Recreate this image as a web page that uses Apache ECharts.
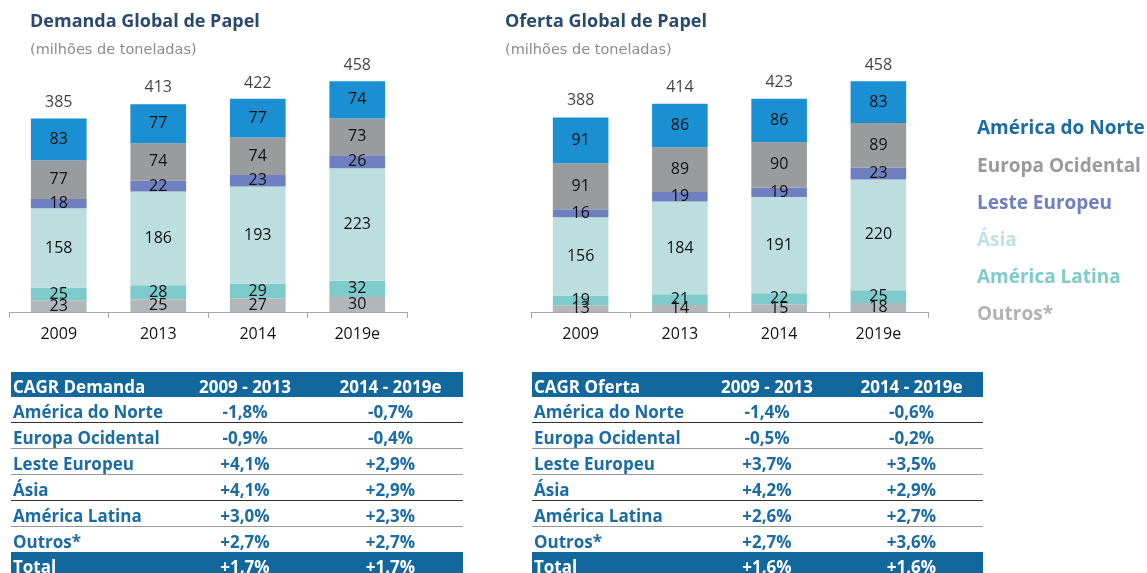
<!DOCTYPE html>
<html>
<head>
<meta charset="utf-8">
<script src="https://cdn.jsdelivr.net/npm/echarts@6/dist/echarts.min.js"></script>
<style>
  html, body { margin: 0; padding: 0; background: #fff; }
  #wrap { position: relative; width: 1147px; height: 573px; overflow: hidden; font-family: "Open Sans", sans-serif; }
  #main { position: absolute; left: 0; top: 0; width: 1147px; height: 573px; }
  table.cagr { position: absolute; border-collapse: collapse; table-layout: fixed; font-weight: bold; font-size: 17px; color: #1b6ca3; }
  table.cagr td, table.cagr th { padding: 0 2px; height: 25px; line-height: 20px; vertical-align: bottom; white-space: nowrap; }
  table.cagr th { background: #12679d; color: #fff; font-weight: bold; }
  table.cagr td.n, table.cagr th.n { text-align: center; }
  table.cagr th.l, table.cagr td.l { text-align: left; }
  table.cagr tr.r td { border-bottom: 1.5px solid #999; }
  table.cagr tr.r.dk td { border-bottom: 1.5px solid #333; }
  table.cagr tr.tot td { background: #12679d; color: #fff; }
</style>
</head>
<body>
<div id="wrap">
  <div id="main"></div>
  <table class="cagr" id="t1" style="left:11px; top:372px; width:452px;">
    <colgroup><col style="width:161px"><col style="width:146px"><col style="width:145px"></colgroup>
  </table>
  <table class="cagr" id="t2" style="left:532px; top:372px; width:451px;">
    <colgroup><col style="width:162px"><col style="width:146px"><col style="width:143px"></colgroup>
  </table>
</div>
<script>
// categorias e séries
var anos = ['2009', '2013', '2014', '2019e'];
var regioes = ['América do Norte', 'Europa Ocidental', 'Leste Europeu', 'Ásia', 'América Latina', 'Outros*'];
var cores = ['#1a8fd1', '#999b9d', '#6f80c0', '#bddede', '#7fcbcb', '#b4b6b9'];
var coresLegenda = ['#1b6ca3', '#9a9a9a', '#6f7fc0', '#c2e1e1', '#7fcbcb', '#b2b2b2'];

// demanda (milhões de toneladas)
var demNorte = [83, 77, 77, 74];
var demEuropaOc = [77, 74, 74, 73];
var demLeste = [18, 22, 23, 26];
var demAsia = [158, 186, 193, 223];
var demLatina = [25, 28, 29, 32];
var demOutros = [23, 25, 27, 30];
var demTotal = [385, 413, 422, 458];

// oferta
var ofeNorte = [91, 86, 86, 83];
var ofeEuropaOc = [91, 89, 90, 89];
var ofeLeste = [16, 19, 19, 23];
var ofeAsia = [156, 184, 191, 220];
var ofeLatina = [19, 21, 22, 25];
var ofeOutros = [13, 14, 15, 18];
var ofeTotal = [388, 414, 423, 458];

// tabelas CAGR
var cagrCols = ['2009 - 2013', '2014 - 2019e'];
var cagrLinhas = ['América do Norte', 'Europa Ocidental', 'Leste Europeu', 'Ásia', 'América Latina', 'Outros*', 'Total'];
var cagrDem1 = ['-1,8%', '-0,9%', '+4,1%', '+4,1%', '+3,0%', '+2,7%', '+1,7%'];
var cagrDem2 = ['-0,7%', '-0,4%', '+2,9%', '+2,9%', '+2,3%', '+2,7%', '+1,7%'];
var cagrOfe1 = ['-1,4%', '-0,5%', '+3,7%', '+4,2%', '+2,6%', '+2,7%', '+1,6%'];
var cagrOfe2 = ['-0,6%', '-0,2%', '+3,5%', '+2,9%', '+2,7%', '+3,6%', '+1,6%'];

(function () {
    var chartDom = document.getElementById('main');
    var myChart = echarts.init(chartDom);
    var font = '"Open Sans", sans-serif';

    function buildSeries(idx, lista, totais) {
        // lista na ordem de regioes; empilhar de baixo (Outros) para cima
        var out = [];
        for (var i = lista.length - 1; i >= 0; i--) {
            out.push({
                name: regioes[i],
                type: 'bar',
                stack: 'g' + idx,
                xAxisIndex: idx,
                yAxisIndex: idx,
                barWidth: '56%',
                data: lista[i],
                itemStyle: { color: cores[i] },
                label: {
                    show: true,
                    position: 'inside',
                    color: '#111',
                    fontSize: 16,
                    fontFamily: font
                },
                emphasis: { disabled: true }
            });
        }
        out.push({
            name: 'total' + idx,
            type: 'scatter',
            xAxisIndex: idx,
            yAxisIndex: idx,
            symbolSize: 0,
            data: totais,
            label: {
                show: true,
                position: 'top',
                distance: 8,
                color: '#111',
                fontSize: 16,
                fontFamily: font
            },
            silent: true
        });
        return out;
    }

    function xAxis(idx) {
        return {
            type: 'category',
            gridIndex: idx,
            data: anos,
            axisLine: { lineStyle: { color: '#a8a8a8', width: 1 } },
            axisTick: { show: true, length: 6, lineStyle: { color: '#a8a8a8' } },
            axisLabel: { color: '#111', fontSize: 16, margin: 14, fontFamily: font }
        };
    }
    function yAxis(idx) {
        return {
            type: 'value',
            gridIndex: idx,
            min: 0,
            max: 500,
            show: false,
            splitLine: { show: false }
        };
    }

    var subFont = '"DejaVu Sans", sans-serif';
    var option = {
        animation: false,
        textStyle: { fontFamily: font },
        title: [
            { text: 'Demanda Global de Papel', left: 25, top: 8, textStyle: { color: '#2a4a6c', fontSize: 18, fontWeight: 'bold', fontFamily: font } },
            { text: '(milhões de toneladas)', left: 25, top: 38, textStyle: { color: '#8c8c8c', fontSize: 14.5, fontWeight: 'normal', fontFamily: subFont } },
            { text: 'Oferta Global de Papel', left: 500, top: 8, textStyle: { color: '#2a4a6c', fontSize: 18, fontWeight: 'bold', fontFamily: font } },
            { text: '(milhões de toneladas)', left: 500, top: 38, textStyle: { color: '#8c8c8c', fontSize: 14.5, fontWeight: 'normal', fontFamily: subFont } }
        ],
        legend: {
            orient: 'vertical',
            left: 967,
            top: 114,
            icon: 'none',
            itemWidth: 0,
            itemHeight: 20,
            itemGap: 17.6,
            selectedMode: false,
            data: regioes.map(function (r, i) {
                return { name: r, textStyle: { color: coresLegenda[i], fontSize: 19, fontWeight: 'bold', fontFamily: font } };
            })
        },
        grid: [
            { left: 9, width: 398, top: 60, bottom: 261 },
            { left: 531, width: 397, top: 60, bottom: 261 }
        ],
        xAxis: [xAxis(0), xAxis(1)],
        yAxis: [yAxis(0), yAxis(1)],
        series: buildSeries(0, [demNorte, demEuropaOc, demLeste, demAsia, demLatina, demOutros], demTotal)
            .concat(buildSeries(1, [ofeNorte, ofeEuropaOc, ofeLeste, ofeAsia, ofeLatina, ofeOutros], ofeTotal))
    };

    option && myChart.setOption(option);
})();

(function () {
    // tabelas
    function fill(id, titulo, c1, c2) {
        var t = document.getElementById(id);
        var html = '<tr><th class="l">' + titulo + '</th><th class="n">' + cagrCols[0] + '</th><th class="n">' + cagrCols[1] + '</th></tr>';
        for (var i = 0; i < cagrLinhas.length; i++) {
            var last = i === cagrLinhas.length - 1;
            var cls = last ? 'tot' : ((i === 0 || i === 3) ? 'r dk' : (i === 5 ? '' : 'r'));
            html += '<tr class="' + cls + '"><td class="l">' + cagrLinhas[i] + '</td><td class="n">' + c1[i] + '</td><td class="n">' + c2[i] + '</td></tr>';
        }
        t.insertAdjacentHTML('beforeend', html);
    }
    fill('t1', 'CAGR Demanda', cagrDem1, cagrDem2);
    fill('t2', 'CAGR Oferta', cagrOfe1, cagrOfe2);
})();
</script>
</body>
</html>
